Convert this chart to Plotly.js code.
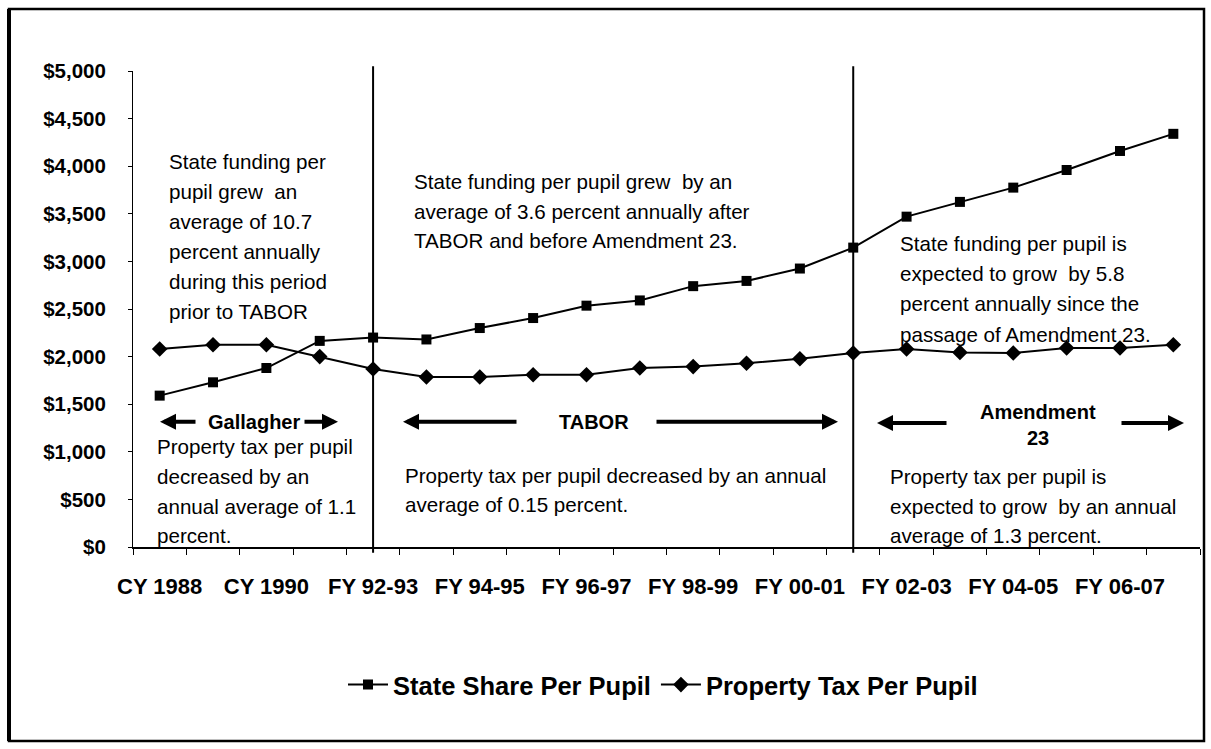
<!DOCTYPE html>
<html>
<head>
<meta charset="utf-8">
<script src="https://cdn.plot.ly/plotly-3.0.1.min.js"></script>
<style>
html,body{margin:0;padding:0;background:#fff;}
#chart{width:1211px;height:749px;}
</style>
</head>
<body>
<div id="chart"></div>
<script>
// ---- data ----
const categories = ["CY 1988","CY 1989","CY 1990","CY 1991","FY 92-93","FY 93-94","FY 94-95","FY 95-96","FY 96-97","FY 97-98","FY 98-99","FY 99-00","FY 00-01","FY 01-02","FY 02-03","FY 03-04","FY 04-05","FY 05-06","FY 06-07","FY 07-08"];
const stateShare = [1590,1730,1880,2165,2200,2180,2300,2405,2535,2590,2740,2795,2925,3145,3470,3625,3775,3960,4160,4340];
const propertyTax = [2080,2125,2125,2000,1870,1785,1785,1810,1810,1880,1895,1930,1978,2038,2080,2044,2038,2090,2090,2125];
const shownTickLabels = ["CY 1988","CY 1990","FY 92-93","FY 94-95","FY 96-97","FY 98-99","FY 00-01","FY 02-03","FY 04-05","FY 06-07"];
const yTicks = [0,500,1000,1500,2000,2500,3000,3500,4000,4500,5000];
const periodDividers = ["FY 92-93","FY 01-02"];
const seriesNames = ["State Share Per Pupil","Property Tax Per Pupil"];

// ---- layout helpers (pixel -> paper) ----
const W = 1211, H = 749;
const L = 133, R = 11, T = 71, B = 202;
const pw = W - L - R, ph = H - T - B;
const px = x => (x - L) / pw;
const py = y => (H - B - y) / ph;
const FONT = "Liberation Sans, Arial, Helvetica, sans-serif";
const TXT = 20.6;

const annotations = [];
function textBlock(lines, x, ys, size, bold, anchor) {
  lines.forEach((t, i) => {
    annotations.push({
      text: t, xref: "paper", yref: "paper", x: px(x), y: py(ys[i]),
      xanchor: anchor || "left", yanchor: "middle", showarrow: false,
      font: {family: FONT, size: size, color: "#000", weight: bold ? "bold" : "normal"}
    });
  });
}
function arrow(tipX, tailX, y) {
  annotations.push({
    text: "", xref: "paper", yref: "paper", x: px(tipX), y: py(y),
    ax: tailX - tipX, ay: 0, showarrow: true, arrowhead: 2, arrowsize: 0.8,
    arrowwidth: 4, arrowcolor: "#000"
  });
}

textBlock(["State funding per","pupil grew  an","average of 10.7","percent annually","during this period","prior to TABOR"],
  167, [161.7,191.7,221.7,251.7,281.7,311.7], TXT, false);
textBlock(["State funding per pupil grew  by an","average of 3.6 percent annually after","TABOR and before Amendment 23."],
  411.7, [181.7,211.3,240.5], TXT, false);
textBlock(["State funding per pupil is","expected to grow  by 5.8","percent annually since the","passage of Amendment 23."],
  898, [243.3,273,303.3,334], TXT, false);
textBlock(["Property tax per pupil","decreased by an","annual average of 1.1","percent."],
  155, [446.7,476.7,506.7,535], TXT, false);
textBlock(["Property tax per pupil decreased by an annual","average of 0.15 percent."],
  403, [475.5,504], TXT, false);
textBlock(["Property tax per pupil is","expected to grow  by an annual","average of 1.3 percent."],
  888, [476,506,535], TXT, false);
textBlock(["Gallagher"], 253.5, [421.7], 20, true, "center");
textBlock(["TABOR"], 594, [421.7], 20, true, "center");
textBlock(["Amendment","23"], 1038, [411.7,438], 20, true, "center");
arrow(160, 197, 421.7);
arrow(338, 303, 421.7);
arrow(403, 518, 421.7);
arrow(838, 655, 421.7);
arrow(877, 948, 423);
arrow(1184, 1120, 423);

const shapes = periodDividers.map(c => ({
  type: "line", xref: "x", yref: "paper",
  x0: categories.indexOf(c), x1: categories.indexOf(c), y0: -0.012, y1: 1.01,
  line: {color: "#000", width: 2}
}));
// outer frame
shapes.push({type: "rect", xref: "paper", yref: "paper",
  x0: px(9), x1: px(1204), y0: py(741), y1: py(9), line: {color: "#000", width: 2.5}});
shapes.push({type: "line", xref: "paper", yref: "paper",
  x0: px(9), x1: px(9), y0: py(741), y1: py(9), line: {color: "#000", width: 4}});

const traces = [
  {x: categories, y: stateShare, name: seriesNames[0], type: "scatter", mode: "lines+markers",
   line: {color: "#000", width: 2}, marker: {symbol: "square", size: 10, color: "#000"}},
  {x: categories, y: propertyTax, name: seriesNames[1], type: "scatter", mode: "lines+markers",
   line: {color: "#000", width: 2}, marker: {symbol: "diamond", size: 12, color: "#000"}}
];

const layout = {
  width: W, height: H,
  margin: {l: L, r: R, t: T, b: B},
  paper_bgcolor: "#fff", plot_bgcolor: "#fff",
  font: {family: FONT, color: "#000"},
  showlegend: true,
  legend: {orientation: "h", x: px(663), xanchor: "center", y: py(685), yanchor: "middle",
    itemwidth: 40,
    font: {family: FONT, size: 25.5, weight: "bold", color: "#000"}, bgcolor: "rgba(0,0,0,0)"},
  xaxis: {
    type: "category", categoryorder: "array", categoryarray: categories,
    range: [-0.5, categories.length - 0.5],
    tickmode: "array", tickvals: categories,
    ticktext: categories.map(c => shownTickLabels.includes(c) ? c : ""),
    tickson: "boundaries", ticks: "outside", ticklen: 6, tickwidth: 1, tickcolor: "#000",
    showline: true, linecolor: "#000", linewidth: 1.5, showgrid: false, zeroline: false,
    tickangle: 0, ticklabelstandoff: 19,
    tickfont: {family: FONT, size: 22, weight: "bold", color: "#000"}
  },
  yaxis: {
    range: [0, 5000], tickmode: "array", tickvals: yTicks,
    ticktext: yTicks.map(v => "$" + v.toLocaleString("en-US")),
    ticks: "outside", ticklen: 4, tickwidth: 1, tickcolor: "#000",
    showline: true, linecolor: "#000", linewidth: 1, showgrid: false, zeroline: false,
    ticklabelstandoff: 18,
    tickfont: {family: FONT, size: 20.5, weight: "bold", color: "#000"}
  },
  annotations: annotations,
  shapes: shapes
};

Plotly.newPlot("chart", traces, layout, {displayModeBar: false, staticPlot: true});
</script>
</body>
</html>
